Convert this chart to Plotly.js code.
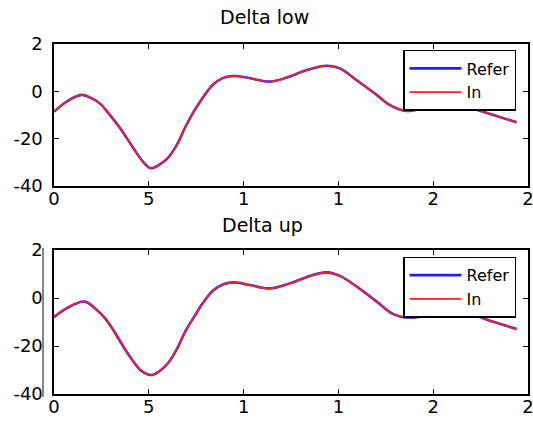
<!DOCTYPE html>
<html>
<head>
<meta charset="utf-8">
<script src="https://cdn.plot.ly/plotly-3.0.1.min.js"></script>
<style>html,body{margin:0;padding:0;background:#fff;}#chart{width:533px;height:421px;}</style>
</head>
<body>
<div id="chart"></div>
<script>
// ---- data ----
const xLow = [0, 0.66, 1.45, 2.05, 2.43, 2.9, 3.48, 4.17, 4.7, 5.1, 5.6, 6.0, 6.5, 6.9, 7.34, 7.86, 8.38, 8.9, 9.51, 10.34, 11.39, 12.27, 13.33, 14.38, 15.08, 16.06, 17.02, 17.72, 18.6, 19.65, 21.06, 21.94, 23.17, 24.4];
const referLow = [-8.6, -4.4, -1.5, -3.2, -5.2, -9.5, -15.5, -23.8, -29.8, -32.5, -30.8, -28.2, -22.3, -15.5, -9.0, -2.5, 2.8, 5.6, 6.5, 5.5, 4.1, 5.8, 9.0, 10.8, 9.7, 4.1, -1.5, -5.8, -8.3, -6.9, -5.5, -6.9, -10.0, -13.1];
const inLow = [-8.6, -4.4, -1.5, -3.2, -5.2, -9.5, -15.5, -23.8, -29.8, -32.5, -30.8, -28.2, -22.3, -15.5, -9.0, -2.5, 2.8, 5.6, 6.5, 5.5, 4.1, 5.8, 9.0, 10.8, 9.7, 4.1, -1.5, -5.8, -8.3, -6.9, -5.5, -6.9, -10.0, -13.1];

const xUp = [0, 0.66, 1.62, 2.23, 2.7, 3.1, 3.6, 4.1, 4.6, 5.15, 5.65, 6.05, 6.5, 6.9, 7.34, 7.86, 8.38, 8.9, 9.51, 10.34, 11.39, 12.44, 13.5, 14.38, 15.08, 16.06, 17.02, 17.9, 18.77, 20.0, 21.15, 22.1, 23.17, 24.4];
const referUp = [-8.0, -4.3, -1.5, -4.8, -8.5, -13.0, -19.5, -25.5, -30.3, -32.1, -30.0, -26.8, -21.0, -14.3, -8.5, -2.0, 3.0, 5.6, 6.5, 5.4, 4.0, 6.1, 9.2, 10.7, 9.2, 4.2, -1.5, -6.7, -8.2, -6.7, -5.4, -7.1, -9.9, -12.9];
const inUp = [-8.0, -4.3, -1.5, -4.8, -8.5, -13.0, -19.5, -25.5, -30.3, -32.1, -30.0, -26.8, -21.0, -14.3, -8.5, -2.0, 3.0, 5.6, 6.5, 5.4, 4.0, 6.1, 9.2, 10.7, 9.2, 4.2, -1.5, -6.7, -8.2, -6.7, -5.4, -7.1, -9.9, -12.9];

const xTickVals = [0, 5, 10, 15, 20, 25];
const xTickText = ["0", "5", "1", "1", "2", "2"];
const yTickVals = [20, 0, -20, -40];
const yTickText = ["2", "0", "-20", "-40"];
const seriesNames = ["Refer", "In"];
const titles = ["Delta low", "Delta up"];

// ---- chart ----
const FONT = "DejaVu Sans, Arial, sans-serif";
const blue = "#2020ff", red = "#ff2020";

const traces = [
  {x: xLow, y: referLow, name: seriesNames[0], xaxis: "x", yaxis: "y", legend: "legend",
   mode: "lines", line: {color: blue, width: 2.6, shape: "spline"}},
  {x: xLow, y: inLow, name: seriesNames[1], xaxis: "x", yaxis: "y", legend: "legend",
   mode: "lines", line: {color: red, width: 1.6, shape: "spline"}},
  {x: xUp, y: referUp, name: seriesNames[0], xaxis: "x2", yaxis: "y2", legend: "legend2",
   mode: "lines", line: {color: blue, width: 2.6, shape: "spline"}},
  {x: xUp, y: inUp, name: seriesNames[1], xaxis: "x2", yaxis: "y2", legend: "legend2",
   mode: "lines", line: {color: red, width: 1.6, shape: "spline"}}
];

function xax(anchor) {
  return {anchor: anchor, domain: [0, 1], range: [0, 25], tickvals: xTickVals, ticktext: xTickText,
    ticks: "inside", ticklen: 5, tickwidth: 1, tickcolor: "#000", showline: true, linecolor: "#000",
    linewidth: 1.6, mirror: "ticks", showgrid: false, zeroline: false, ticklabeloverflow: "allow",
    tickfont: {family: FONT, size: 18, color: "#000"}, ticklabelstandoff: -4};
}
function yax(anchor, dom) {
  return {anchor: anchor, domain: dom, range: [-40, 20], tickvals: yTickVals, ticktext: yTickText,
    ticks: "inside", ticklen: 5, tickwidth: 1, tickcolor: "#000", showline: true, linecolor: "#000",
    linewidth: 1.6, mirror: "ticks", showgrid: false, zeroline: false,
    tickfont: {family: FONT, size: 18, color: "#000"}, ticklabelstandoff: 6};
}

const legendStyle = (y) => ({x: 0.7363, y: y, xanchor: "left", yanchor: "top",
  bgcolor: "#fff", bordercolor: "#000", borderwidth: 1.5,
  font: {family: FONT, size: 16, color: "#000"}, tracegroupgap: 0, itemwidth: 52});

const layout = {
  width: 533, height: 421,
  margin: {l: 54, r: 5, t: 44, b: 27},
  paper_bgcolor: "#fff", plot_bgcolor: "#fff",
  showlegend: true,
  xaxis: xax("y"), yaxis: yax("x", [0.5943, 1]),
  xaxis2: xax("y2"), yaxis2: yax("x2", [0, 0.4114]),
  legend: legendStyle(0.983),
  legend2: legendStyle(0.3923),
  annotations: [
    {text: titles[0], xref: "paper", yref: "paper", x: 0.444, y: 1.077, xanchor: "center", yanchor: "middle",
     showarrow: false, font: {family: FONT, size: 19, color: "#000"}},
    {text: titles[1], xref: "paper", yref: "paper", x: 0.439, y: 0.483, xanchor: "center", yanchor: "middle",
     showarrow: false, font: {family: FONT, size: 19, color: "#000"}}
  ],
  shapes: [
    {type: "line", xref: "paper", yref: "paper", x0: -0.0232, x1: -0.0232, y0: 0.4171, y1: -0.0086,
     line: {color: "#888", width: 2}}
  ]
};

Plotly.newPlot("chart", traces, layout, {displayModeBar: false, staticPlot: true});
</script>
</body>
</html>
